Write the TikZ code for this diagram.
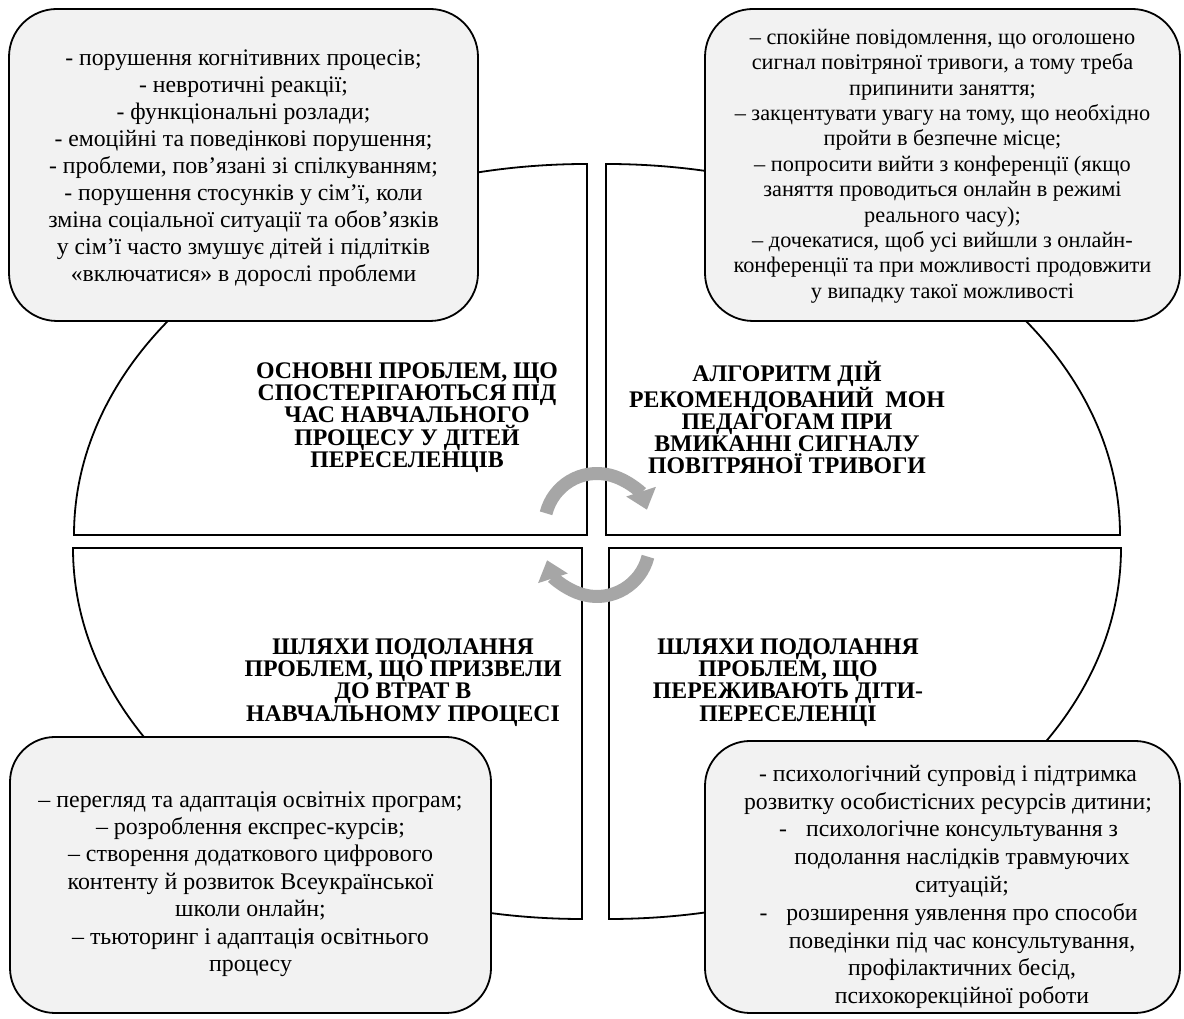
\documentclass[tikz,border=0pt]{standalone}
\usepackage{fontspec}
\setmainfont{Liberation Serif}
\usetikzlibrary{arrows.meta}
\definecolor{boxfill}{HTML}{F2F2F2}
\definecolor{arrowgray}{HTML}{A6A6A6}
\begin{document}
\begin{tikzpicture}[x=1pt,y=1pt,
  quad/.style={draw=black, line width=1.8pt, fill=white},
  infobox/.style={draw=black, line width=1.8pt, fill=boxfill, rounded corners=48pt, inner sep=0pt},
  boxtext/.style={align=center, inner sep=0pt},
  headtext/.style={align=center, font=\fontsize{23.8}{22.2}\selectfont\bfseries, inner sep=0pt},
  cyclearrow/.style={draw=arrowgray, line width=13pt, -{Triangle[width=30pt,length=19pt]}}]
\useasboundingbox (0,0) rectangle (1184,1019);

% four quarter-ellipse sectors around the central cross
\draw[quad] (587,484) -- (74,484) arc[start angle=180, end angle=90, x radius=513, y radius=371] -- cycle;
\draw[quad] (606,484) -- (1120,484) arc[start angle=0, end angle=90, x radius=514, y radius=371] -- cycle;
\draw[quad] (582,471) -- (73,471) arc[start angle=180, end angle=270, x radius=509, y radius=371] -- cycle;
\draw[quad] (609,471) -- (1121,471) arc[start angle=0, end angle=-90, x radius=512, y radius=371] -- cycle;

% corner boxes
\node[infobox, minimum width=469pt, minimum height=312pt] (tlbox) at (243.5,854) {};
\node[infobox, minimum width=475pt, minimum height=312pt] (trbox) at (942.5,854) {};
\node[infobox, minimum width=481pt, minimum height=276pt, rounded corners=45pt] (blbox) at (250.5,144) {};
\node[infobox, minimum width=475pt, minimum height=272pt, rounded corners=45pt] (brbox) at (942.5,142) {};

% box texts
\node[boxtext, font=\fontsize{23.7}{27}\selectfont] (tltext) at (243.5,851) {- порушення когнітивних процесів;\\
- невротичні реакції;\\
- функціональні розлади;\\
- емоційні та поведінкові порушення;\\
- проблеми, пов’язані зі спілкуванням;\\
- порушення стосунків у сім’ї, коли\\
зміна соціальної ситуації та обов’язків\\
у сім’ї часто змушує дітей і підлітків\\
«включатися» в дорослі проблеми};

\node[boxtext, font=\fontsize{22.3}{25.4}\selectfont] (trtext) at (942.5,853) {– спокійне повідомлення, що оголошено\\
сигнал повітряної тривоги, а тому треба\\
припинити заняття;\\
– закцентувати увагу на тому, що необхідно\\
пройти в безпечне місце;\\
– попросити вийти з конференції (якщо\\
заняття проводиться онлайн в режимі\\
реального часу);\\
– дочекатися, щоб усі вийшли з онлайн-\\
конференції та при можливості продовжити\\
у випадку такої можливості};

\node[boxtext, font=\fontsize{23.9}{27.4}\selectfont] (bltext) at (250.5,135) {– перегляд та адаптація освітніх програм;\\
– розроблення експрес-курсів;\\
– створення додаткового цифрового\\
контенту й розвиток Всеукраїнської\\
школи онлайн;\\
– тьюторинг і адаптація освітнього\\
процесу};

\node[boxtext, font=\fontsize{23.7}{27.8}\selectfont] (brtext) at (948,132) {- психологічний супровід і підтримка\\
розвитку особистісних ресурсів дитини;\\
\hspace*{28pt}\llap{-\hspace{19pt}}психологічне консультування з\\
\hspace*{28pt}подолання наслідків травмуючих\\
\hspace*{28pt}ситуацій;\\
\hspace*{28pt}\llap{-\hspace{19pt}}розширення уявлення про способи\\
\hspace*{28pt}поведінки під час консультування,\\
\hspace*{28pt}профілактичних бесід,\\
\hspace*{28pt}психокорекційної роботи};

% sector headings
\node[headtext] (tlhead) at (407,601.5) {ОСНОВНІ ПРОБЛЕМ, ЩО\\
СПОСТЕРІГАЮТЬСЯ ПІД\\
ЧАС НАВЧАЛЬНОГО\\
ПРОЦЕСУ У ДІТЕЙ\\
ПЕРЕСЕЛЕНЦІВ};
\node[headtext] (trhead) at (787,601.5) {АЛГОРИТМ ДІЙ\\
РЕКОМЕНДОВАНИЙ\ \ МОН\\
ПЕДАГОГАМ ПРИ\\
ВМИКАННІ СИГНАЛУ\\
ПОВІТРЯНОЇ ТРИВОГИ};
\node[headtext] (blhead) at (403,336.5) {ШЛЯХИ ПОДОЛАННЯ\\
ПРОБЛЕМ, ЩО ПРИЗВЕЛИ\\
ДО ВТРАТ В\\
НАВЧАЛЬНОМУ ПРОЦЕСІ};
\node[headtext] (brhead) at (788,336.5) {ШЛЯХИ ПОДОЛАННЯ\\
ПРОБЛЕМ, ЩО\\
ПЕРЕЖИВАЮТЬ ДІТИ-\\
ПЕРЕСЕЛЕНЦІ};

% central cycle arrows
\coordinate (upc) at (597,493);
\coordinate (dnc) at (597,475);
\draw[cyclearrow] (upc) ++(166:52.5) arc[start angle=166, end angle=18, radius=52.5];
\draw[cyclearrow] (dnc) ++(-14:52.5) arc[start angle=-14, end angle=-162, radius=52.5];
\end{tikzpicture}
\end{document}
